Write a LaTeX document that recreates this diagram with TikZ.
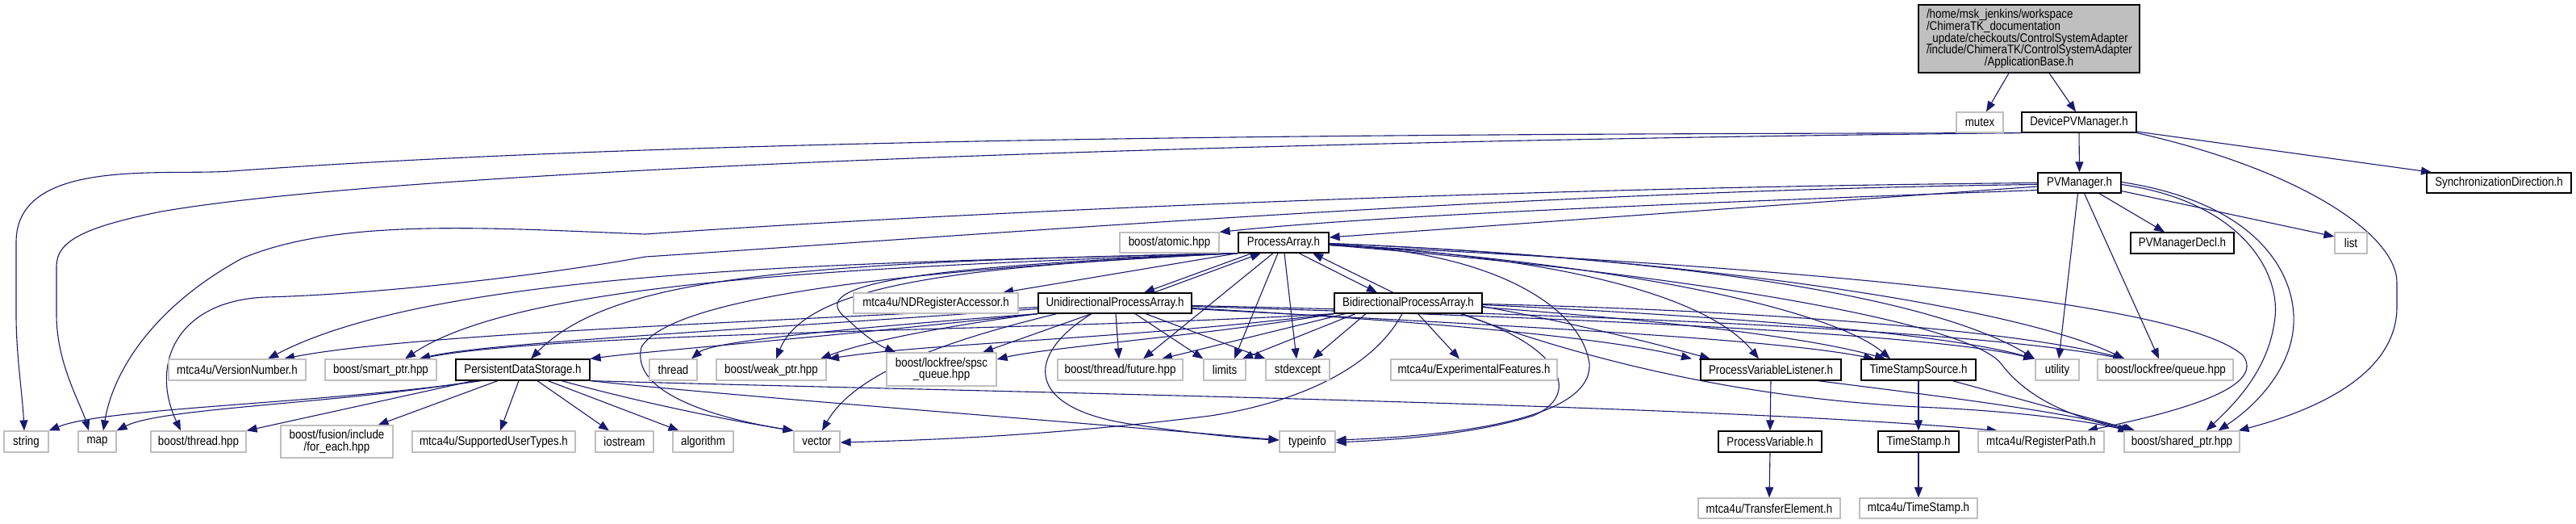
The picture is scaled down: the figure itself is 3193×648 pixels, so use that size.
\documentclass[tikz,border=0pt]{standalone}
\usepackage{fontspec}
\setmainfont{Liberation Sans}[FakeStretch=0.86]
\usetikzlibrary{arrows.meta}
\definecolor{edgec}{HTML}{191970}
\definecolor{lgray}{HTML}{BFBFBF}
\pgfdeclarelayer{bg}
\pgfsetlayers{bg,main}
\tikzset{
  box/.style={line width=1.2pt, inner sep=0pt, align=center, fill=white},
  gnode/.style={box, draw=lgray},
  bnode/.style={box, draw=black},
  hA/.style={minimum height=25pt},
  hB/.style={minimum height=26pt},
  edge/.style={draw=edgec, line width=1.1pt, -{Triangle[length=13pt,width=10pt]}},
}
\begin{document}
\begin{tikzpicture}[x=1pt,y=-1pt,font=\fontsize{15.5}{14.8}\selectfont]
\useasboundingbox (0,0) rectangle (3193,648);
% ---------- nodes ----------
\node[bnode, fill=lgray, minimum width=274pt, minimum height=84pt, text width=254pt, align=left] (AB) at (2515,48)
 {/home/msk\_jenkins/workspace\\/ChimeraTK\_documentation\\\_update/checkouts/ControlSystemAdapter\\/include/ChimeraTK/ControlSystemAdapter\\\makebox[254pt][c]{/ApplicationBase.h}};
\node[gnode,hA,minimum width=58pt] (mutex) at (2454,151.5) {mutex};
\node[bnode,hA,minimum width=142pt] (DPM) at (2577,151.5) {DevicePVManager.h};
\node[bnode,hA,minimum width=103pt] (PVM) at (2577.5,226.5) {PVManager.h};
\node[bnode,hA,minimum width=179pt] (SD) at (3097.5,226.5) {SynchronizationDirection.h};
\node[gnode,hA,minimum width=123pt] (atomic) at (1449.5,300.5) {boost/atomic.hpp};
\node[bnode,hA,minimum width=112pt] (PA) at (1591,300.5) {ProcessArray.h};
\node[bnode,hB,minimum width=128pt] (PVMD) at (2705,301) {PVManagerDecl.h};
\node[gnode,hB,minimum width=40pt] (list) at (2914,301) {list};
\node[gnode,hA,minimum width=204pt] (NDRA) at (1160,375.5) {mtca4u/NDRegisterAccessor.h};
\node[bnode,hA,minimum width=190pt] (UPA) at (1382,375.5) {UnidirectionalProcessArray.h};
\node[bnode,hA,minimum width=183pt] (BPA) at (1745.5,375.5) {BidirectionalProcessArray.h};
% row 3
\node[gnode,hB,minimum width=170pt] (VN) at (294,458) {mtca4u/VersionNumber.h};
\node[gnode,hB,minimum width=138pt] (SP) at (472,458) {boost/smart\_ptr.hpp};
\node[bnode,hB,minimum width=166pt] (PDS) at (648,458) {PersistentDataStorage.h};
\node[gnode,hB,minimum width=59pt] (thread) at (834.5,458) {thread};
\node[gnode,hB,minimum width=136pt] (WP) at (956,458) {boost/weak\_ptr.hpp};
\node[gnode,minimum height=41pt,minimum width=136pt] (spsc) at (1167,457.5) {boost/lockfree/spsc\\\_queue.hpp};
\node[gnode,hB,minimum width=155pt] (future) at (1388.5,458) {boost/thread/future.hpp};
\node[gnode,hB,minimum width=52pt] (limits) at (1518,458) {limits};
\node[gnode,hB,minimum width=79pt] (stdexcept) at (1608.5,458) {stdexcept};
\node[gnode,hB,minimum width=206pt] (ExpF) at (1827,458) {mtca4u/ExperimentalFeatures.h};
\node[bnode,hB,minimum width=174pt] (PVL) at (2195,458) {ProcessVariableListener.h};
\node[bnode,hB,minimum width=142pt] (TSS) at (2378,458) {TimeStampSource.h};
\node[gnode,hB,minimum width=54pt] (utility) at (2550,458) {utility};
\node[gnode,hB,minimum width=168pt] (queue) at (2684,458) {boost/lockfree/queue.hpp};
% row 4
\node[gnode,hB,minimum width=55pt] (string) at (32.5,547) {string};
\node[gnode,hB,minimum width=47pt] (map) at (120.5,547) {map};
\node[gnode,hB,minimum width=118pt] (bthread) at (246,547) {boost/thread.hpp};
\node[gnode,minimum height=40pt,minimum width=139pt] (fusion) at (417.5,547) {boost/fusion/include\\/for\_each.hpp};
\node[gnode,hB,minimum width=202pt] (SUT) at (612,547) {mtca4u/SupportedUserTypes.h};
\node[gnode,hB,minimum width=72pt] (iostream) at (774,547) {iostream};
\node[gnode,hB,minimum width=75pt] (algorithm) at (871.5,547) {algorithm};
\node[gnode,hB,minimum width=57pt] (vector) at (1012.5,547) {vector};
\node[gnode,hB,minimum width=69pt] (typeinfo) at (1620.5,547) {typeinfo};
\node[bnode,hB,minimum width=128pt] (PV) at (2194,547) {ProcessVariable.h};
\node[bnode,hB,minimum width=100pt] (TS) at (2378,547) {TimeStamp.h};
\node[gnode,hB,minimum width=156pt] (RP) at (2530,547) {mtca4u/RegisterPath.h};
\node[gnode,hB,minimum width=143pt] (shared) at (2704.5,547) {boost/shared\_ptr.hpp};
% row 5
\node[gnode,hA,minimum width=176pt] (TE) at (2193,629.5) {mtca4u/TransferElement.h};
\node[gnode,hA,minimum width=146pt] (mTS) at (2378,629.5) {mtca4u/TimeStamp.h};
% ---------- edges ----------
\begin{pgfonlayer}{bg}
% ApplicationBase / DevicePVManager
\draw[edge] ([xshift=-25]AB.south) -- ([xshift=8]mutex.north);
\draw[edge] ([xshift=25]AB.south) -- ([xshift=-4]DPM.north);
\draw[edge] (DPM.south) -- (PVM.north);
\draw[edge] ([yshift=-11.5]DPM.east) -- ([xshift=-83.5]SD.north);
\draw[edge] (DPM.south east) .. controls (2850,210) and (2971,290) .. (2971,350) -- (2971,380) .. controls (2971,450) and (2900,500) .. ([xshift=70]shared.north);
\draw[edge] (DPM.south west) .. controls (1800,166) and (900,168) .. (286,212) .. controls (200,218) and (20,195) .. (20,300) -- (20,390) .. controls (20,440) and (28,490) .. ([xshift=-2.5]string.north);
\draw[edge] (DPM.south west) .. controls (1500,175) and (500,210) .. (200,262) .. controls (100,282) and (70,300) .. (70,330) -- (70,390) .. controls (70,450) and (100,500) .. ([xshift=-10.5]map.north);
% PVManager
\draw[edge] ([yshift=-4.5]PVM.west) -- ([yshift=6.5]PA.east);
\draw[edge] ([yshift=-9]PVM.west) .. controls (2000,255) and (1700,268) .. (atomic.north east);
\draw[edge] (PVM.west) .. controls (1900,232) and (1200,262) .. (800,290) .. controls (600,282) and (420,270) .. (300,320) .. controls (190,380) and (140,460) .. ([xshift=7.5]map.north);
\draw[edge] ([yshift=-2]PVM.west) .. controls (1900,236) and (1200,292) .. (800,318) .. controls (650,345) and (450,365) .. (330,368) .. controls (220,372) and (185,450) .. ([xshift=-22]bthread.north);
\draw[edge] ([xshift=24.5]PVM.south) -- ([xshift=-22]PVMD.north);
\draw[edge] ([yshift=-10]PVM.east) -- ([yshift=8]list.west);
\draw[edge] ([xshift=-2]PVM.south) -- ([xshift=2]utility.north);
\draw[edge] ([xshift=6]PVM.south) -- ([xshift=-8]queue.north);
\draw[edge] ([yshift=-2]PVM.east) .. controls (2780,250) and (2830,340) .. (2819,400) .. controls (2810,460) and (2770,500) .. ([xshift=30]shared.north);
\draw[edge] ([yshift=1]PVM.east) .. controls (2790,250) and (2840,330) .. (2843,390) .. controls (2846,450) and (2800,500) .. ([xshift=45]shared.north);
% ProcessArray
\draw[edge] ([xshift=-39]PA.south) -- ([xshift=36]UPA.north);
\draw[edge] ([xshift=48]UPA.north) -- ([xshift=-28]PA.south);
\draw[edge] ([xshift=19]PA.south) -- ([xshift=-38.5]BPA.north);
\draw[edge] ([xshift=-18.5]BPA.north) -- ([xshift=36]PA.south);
\draw[edge] (PA.south west) -- ([xshift=83]NDRA.north);
\draw[edge] ([xshift=-13]PA.south) -- ([xshift=28.5]future.north);
\draw[edge] ([xshift=-7]PA.south) -- ([xshift=12]limits.north);
\draw[edge] ([xshift=1]PA.south) -- ([xshift=-1.5]stdexcept.north);
\draw[edge] (PA.south west) .. controls (1100,325) and (550,330) .. ([xshift=38]VN.north);
\draw[edge] (PA.south west) .. controls (1100,330) and (650,345) .. ([xshift=30]SP.north);
\draw[edge] (PA.south west) .. controls (1000,325) and (760,340) .. ([xshift=10]PDS.north);
\draw[edge] (PA.south west) .. controls (1200,330) and (1000,350) .. ([xshift=6]WP.north);
\draw[edge] (PA.south west) .. controls (1150,330) and (990,350) .. (1050,395) .. controls (1070,415) and (1090,428) .. ([xshift=-57]spsc.north);
\draw[edge] (PA.south west) .. controls (1100,335) and (830,370) .. (795,430) .. controls (780,490) and (900,520) .. (vector.north west);
\draw[edge] ([yshift=-3]PA.east) .. controls (1850,310) and (1960,380) .. (1970,450) .. controls (1975,520) and (1800,540) .. ([yshift=2]typeinfo.east);
\draw[edge] ([yshift=-2]PA.east) .. controls (1950,320) and (2120,370) .. ([xshift=-15]PVL.north);
\draw[edge] ([yshift=-2]PA.east) .. controls (2050,330) and (2280,390) .. ([xshift=-35]TSS.north);
\draw[edge] ([yshift=-1]PA.east) .. controls (2100,320) and (2400,370) .. ([xshift=-28]utility.north);
\draw[edge] ([yshift=-1]PA.east) .. controls (2100,320) and (2500,380) .. ([xshift=-51]queue.north);
\draw[edge] ([yshift=-3]PA.east) .. controls (2100,340) and (2440,400) .. (2480,450) .. controls (2510,490) and (2560,515) .. ([xshift=-62]shared.north);
\draw[edge] ([yshift=-3]PA.east) .. controls (2200,330) and (2700,370) .. (2780,440) .. controls (2810,480) and (2700,510) .. ([xshift=57]RP.north);
% UnidirectionalProcessArray
\draw[edge] ([yshift=-5]UPA.west) .. controls (900,400) and (500,415) .. ([xshift=58]VN.north);
\draw[edge] ([yshift=-7]UPA.west) .. controls (900,410) and (600,425) .. ([xshift=48]SP.north);
\draw[edge] (UPA.south west) .. controls (1000,420) and (800,435) .. (PDS.north east);
\draw[edge] (UPA.south west) .. controls (1000,410) and (880,425) .. ([xshift=22.5]thread.north);
\draw[edge] (UPA.south west) .. controls (1200,400) and (1080,420) .. ([xshift=61]WP.north);
\draw[edge] ([xshift=-29]UPA.south) -- ([xshift=51]spsc.north);
\draw[edge] ([xshift=1]UPA.south) -- ([xshift=-1.5]future.north);
\draw[edge] ([xshift=25]UPA.south) -- (limits.north west);
\draw[edge] ([xshift=38]UPA.south) -- (stdexcept.north west);
\draw[edge] ([xshift=-72]UPA.south) .. controls (1180,420) and (1060,460) .. ([xshift=6.5]vector.north);
\draw[edge] ([xshift=-29]UPA.south) .. controls (1270,440) and (1270,505) .. (1400,525) .. controls (1480,537) and (1540,543) .. ([yshift=2]typeinfo.west);
\draw[edge] ([yshift=-6]UPA.east) .. controls (1800,400) and (2000,420) .. ([xshift=-98]PVL.north);
\draw[edge] ([yshift=-7]UPA.east) .. controls (1900,405) and (2200,420) .. ([xshift=-55]TSS.north);
\draw[edge] ([yshift=-4]UPA.east) .. controls (2000,395) and (2400,415) .. ([xshift=-29]utility.north);
\draw[edge] ([yshift=-3]UPA.east) .. controls (2000,390) and (2450,410) .. ([xshift=-52]queue.north);
% BidirectionalProcessArray
\draw[edge] (BPA.south west) .. controls (1300,410) and (700,410) .. ([xshift=48]SP.north);
\draw[edge] (BPA.south west) .. controls (1400,420) and (1150,425) .. ([xshift=71]WP.north);
\draw[edge] (BPA.south west) .. controls (1500,415) and (1300,430) .. ([yshift=12.5]spsc.east);
\draw[edge] ([xshift=-78]BPA.south) -- ([xshift=51.5]future.north);
\draw[edge] ([xshift=-65.5]BPA.south) -- ([xshift=22]limits.north);
\draw[edge] ([xshift=-52.5]BPA.south) -- ([xshift=18.5]stdexcept.north);
\draw[edge] ([xshift=12]BPA.south) -- ([xshift=-18]ExpF.north);
\draw[edge] ([xshift=-7.5]BPA.south) .. controls (1700,460) and (1600,500) .. (1500,515) .. controls (1300,540) and (1150,545) .. ([yshift=-1]vector.east);
\draw[edge] ([xshift=65.5]BPA.south) .. controls (1940,430) and (1960,490) .. (1900,515) .. controls (1820,540) and (1720,545) .. ([yshift=-1]typeinfo.east);
\draw[edge] ([yshift=-4]BPA.east) .. controls (1950,400) and (2050,425) .. ([xshift=-75]PVL.north);
\draw[edge] ([yshift=-5]BPA.east) .. controls (2100,400) and (2250,420) .. ([xshift=-41]TSS.north);
\draw[edge] ([yshift=-2]BPA.east) .. controls (2100,390) and (2400,410) .. ([xshift=-28]utility.north);
\draw[edge] ([yshift=-1]BPA.east) .. controls (2200,385) and (2500,410) .. ([xshift=-50]queue.north);
\draw[edge] ([xshift=65.5]BPA.south) .. controls (1950,440) and (2150,495) .. (2400,505) .. controls (2500,510) and (2580,520) .. ([xshift=-66]shared.north);
% PersistentDataStorage
\draw[edge] ([xshift=-51]PDS.south) .. controls (400,500) and (130,505) .. (string.north east);
\draw[edge] ([xshift=-56]PDS.south) .. controls (420,500) and (200,505) .. (map.north east);
\draw[edge] ([xshift=-61]PDS.south) -- (bthread.north east);
\draw[edge] ([xshift=-31]PDS.south) -- ([xshift=51]fusion.north);
\draw[edge] ([xshift=-5]PDS.south) -- ([xshift=8]SUT.north);
\draw[edge] ([xshift=18]PDS.south) -- ([xshift=-19]iostream.north);
\draw[edge] ([xshift=31]PDS.south) -- ([xshift=-30]algorithm.north);
\draw[edge] ([xshift=48]PDS.south) .. controls (800,500) and (900,520) .. (vector.north west);
\draw[edge] (PDS.south east) .. controls (900,490) and (1300,520) .. ([yshift=2]typeinfo.west);
\draw[edge] (PDS.south east) .. controls (1200,485) and (2100,500) .. ([xshift=-54]RP.north);
% lower part
\draw[edge] (PVL.south) -- (PV.north);
\draw[edge] ([xshift=58]PVL.south) .. controls (2400,490) and (2560,510) .. ([xshift=-60]shared.north);
\draw[edge] (TSS.south) -- (TS.north);
\draw[edge] ([xshift=42]TSS.south) -- ([xshift=-58]shared.north);
\draw[edge] (PV.south) -- (TE.north);
\draw[edge] (TS.south) -- (mTS.north);
\end{pgfonlayer}
\end{tikzpicture}
\end{document}
